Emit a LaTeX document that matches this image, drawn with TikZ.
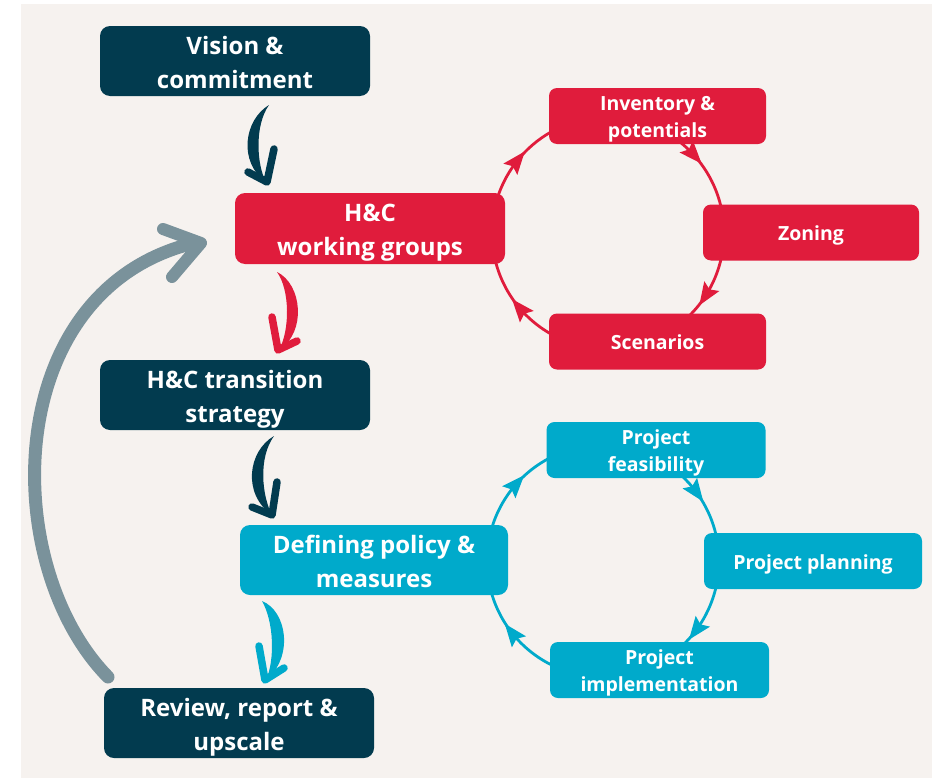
\documentclass[tikz,border=0pt]{standalone}
\usepackage{fontspec}
\IfFontExistsTF{Noto Sans Bold}
  {\setmainfont{Noto Sans}[BoldFont={Noto Sans Bold}]}
  {\IfFontExistsTF{Open Sans Bold}
    {\setmainfont{Open Sans}[BoldFont={Open Sans Bold}]}
    {\setmainfont{Noto Sans}[BoldFont={Noto Sans}, BoldFeatures={FakeBold=2.5}]}}
\usetikzlibrary{arrows.meta,calc}
\definecolor{navy}{RGB}{2,59,79}
\definecolor{hcred}{RGB}{224,28,60}
\definecolor{hccyan}{RGB}{0,170,203}
\definecolor{loopgrey}{RGB}{122,146,155}
\definecolor{bgc}{RGB}{246,242,239}
\newcommand{\ls}{\vrule width 0pt height 0.8\baselineskip depth 0.2\baselineskip}
\newcommand{\cychead}{(11pt,0pt) -- (-12pt,9pt) -- (-8pt,0pt) -- (-12pt,-9pt) -- cycle}
\begin{document}
\begin{tikzpicture}[x=1pt,y=-1pt,
  box/.style={rounded corners=10pt, text=white, align=center, inner sep=0pt,
    font=\bfseries\fontsize{24}{34}\selectfont, minimum width=270pt, minimum height=70pt},
  sbox/.style={box, rounded corners=8pt, font=\bfseries\fontsize{19.5}{27}\selectfont,
    minimum width=217pt, minimum height=56pt},
  cyc/.style={line width=2.8pt},
  barb/.style={line join=round, line cap=round}
]
\useasboundingbox[fill=white] (0,0) rectangle (940,779);
\fill[bgc] (21,4) rectangle (932,778);

% circle centres
\coordinate (rc) at (608,233);
\coordinate (cc) at (603,561);

% red cycle
\draw[hcred, cyc] ($(rc)+(-163:116)$) arc[start angle=-163, end angle=-116, radius=116];
\draw[hcred, cyc] ($(rc)+(-52:116)$) arc[start angle=-52, end angle=-11, radius=116];
\draw[hcred, cyc] ($(rc)+(12:116)$) arc[start angle=12, end angle=47, radius=116];
\draw[hcred, cyc] ($(rc)+(116:116)$) arc[start angle=116, end angle=167, radius=116];
\path (rc) ++(-141:116) coordinate (rh1) (rc) ++(-42:116) coordinate (rh2)
      (rc) ++(33:116) coordinate (rh3) (rc) ++(140:116) coordinate (rh4);
\fill[hcred, shift={(rh1)}, rotate=51] \cychead;
\fill[hcred, shift={(rh2)}, rotate=-48] \cychead;
\fill[hcred, shift={(rh3)}, rotate=-123] \cychead;
\fill[hcred, shift={(rh4)}, rotate=130] \cychead;

% cyan cycle
\draw[hccyan, cyc] ($(cc)+(-164:116)$) arc[start angle=-164, end angle=-116, radius=116];
\draw[hccyan, cyc] ($(cc)+(-49:116)$) arc[start angle=-49, end angle=-11, radius=116];
\draw[hccyan, cyc] ($(cc)+(12:116)$) arc[start angle=12, end angle=47, radius=116];
\draw[hccyan, cyc] ($(cc)+(113:116)$) arc[start angle=113, end angle=166, radius=116];
\path (cc) ++(-138:116) coordinate (ch1) (cc) ++(-36:116) coordinate (ch2)
      (cc) ++(37:116) coordinate (ch3) (cc) ++(142:116) coordinate (ch4);
\fill[hccyan, shift={(ch1)}, rotate=48] \cychead;
\fill[hccyan, shift={(ch2)}, rotate=-54] \cychead;
\fill[hccyan, shift={(ch3)}, rotate=-127] \cychead;
\fill[hccyan, shift={(ch4)}, rotate=128] \cychead;

% thick flow arrows
% vision -> working groups
\fill[navy] (269,105) .. controls (244,120) and (238,162) .. (266,182)
  .. controls (257,166) and (254,126) .. cycle;
\draw[navy, barb, line width=7.5pt] (248,172) -- (267,182) -- (274,149);
% working groups -> strategy
\fill[hcred] (277,272) .. controls (302,284) and (307,332) .. (279,350)
  .. controls (290,330) and (290,290) .. cycle;
\draw[hcred, barb, line width=7.5pt] (272,317) -- (278,350) -- (297,341);
% strategy -> policy
\fill[navy] (274,436) .. controls (248,451) and (242,494) .. (272,515)
  .. controls (262,496) and (258,458) .. cycle;
\draw[navy, barb, line width=7.5pt] (252,507) -- (272,515) -- (277,482);
% policy -> review
\fill[hccyan] (262,601) .. controls (287,611) and (294,657) .. (266,680)
  .. controls (275,660) and (274,622) .. cycle;
\draw[hccyan, barb, line width=7.5pt] (259,646) -- (265,680) -- (284,668);
% review -> working groups (loop)
\draw[loopgrey, line width=13pt, line cap=round] (108,677) .. controls (-2,565) and (0,290) .. (194,243);
\draw[loopgrey, barb, line width=12pt] (163,229) -- (201,243) -- (172,277);

% boxes
\node[box, fill=navy] (vision) at (235,61) {\ls Vision \&\\\ls commitment};
\node[box, fill=hcred, minimum height=71pt] (wg) at (370,228.5) {\ls H\&C\\\ls working groups};
\node[box, fill=navy] (strat) at (235,395) {\ls H\&C transition\\\ls strategy};
\node[box, fill=hccyan, minimum width=268pt] (policy) at (374,560) {\ls Defining policy \&\\\ls measures};
\node[box, fill=navy] (review) at (239,723) {\ls Review, report \&\\\ls upscale};

\node[sbox, fill=hcred] (inv) at (657.5,116) {\ls Inventory \&\\\ls potentials};
\node[sbox, fill=hcred, minimum width=216pt] (zon) at (811,232.5) {\ls Zoning};
\node[sbox, fill=hcred] (scen) at (657.5,341.5) {\ls Scenarios};

\node[sbox, fill=hccyan, minimum width=219pt] (feas) at (656,450) {\ls Project\\\ls feasibility};
\node[sbox, fill=hccyan, minimum width=218pt] (plan) at (813,561) {\ls Project planning};
\node[sbox, fill=hccyan, minimum width=219pt] (impl) at (659.5,670) {\ls Project\\\ls implementation};
\end{tikzpicture}
\end{document}
